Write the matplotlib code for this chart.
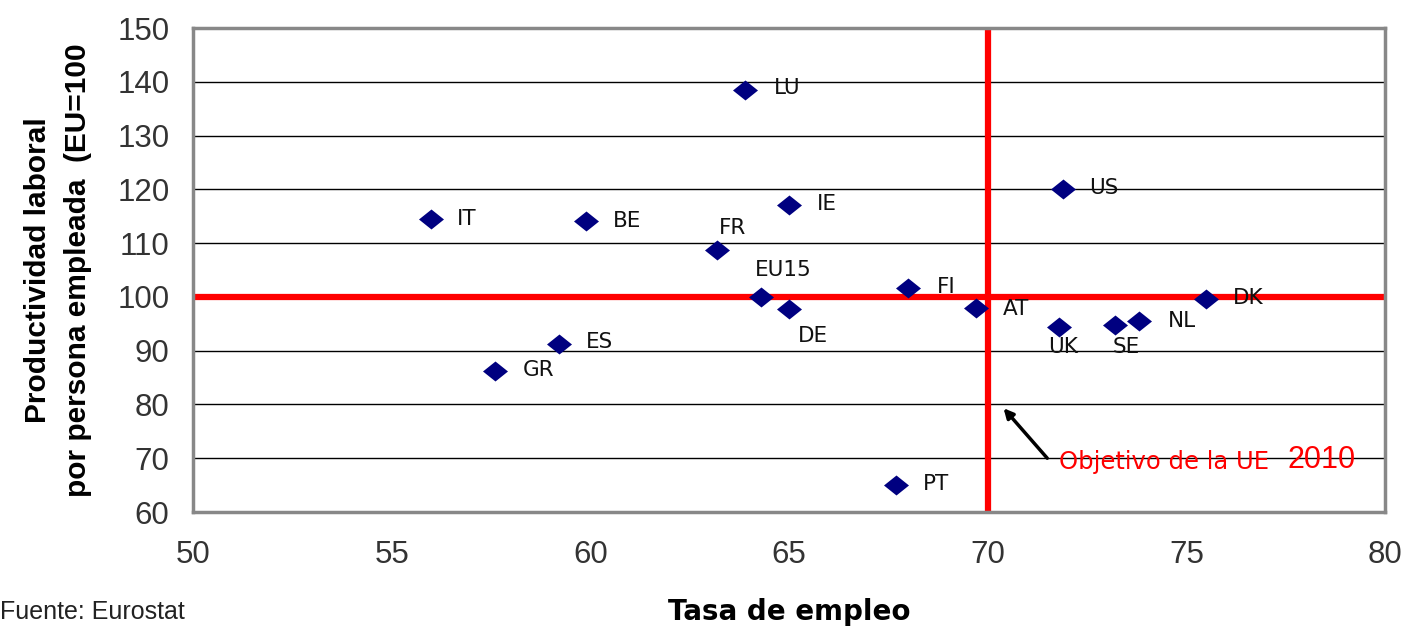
import matplotlib
matplotlib.use("Agg")
import matplotlib.pyplot as plt
from matplotlib.path import Path

countries = ["LU", "IT", "BE", "IE", "FR", "EU15", "DE", "FI", "AT", "US",
             "DK", "UK", "SE", "NL", "ES", "GR", "PT"]
employment = [63.9, 56.0, 59.9, 65.0, 63.2, 64.3, 65.0, 68.0, 69.7, 71.9,
              75.5, 71.8, 73.2, 73.8, 59.2, 57.6, 67.7]
productivity = [138.5, 114.5, 114.1, 117.1, 108.7, 100.0, 97.8, 101.7, 97.9, 120.1,
                99.6, 94.4, 94.8, 95.5, 91.2, 86.2, 65.0]
target_employment = 70
eu_level = 100

xticks = [50, 55, 60, 65, 70, 75, 80]
yticks = [60, 70, 80, 90, 100, 110, 120, 130, 140, 150]

# label offsets (pixels) relative to markers
label_offsets = {
    "LU": (29, 2), "IT": (25, 0), "BE": (27, 0), "IE": (28, 1), "FR": (1, 22),
    "EU15": (-6, 27), "DE": (9, -27), "FI": (29, 1), "AT": (27, -1), "US": (26, 1),
    "DK": (27, 1), "UK": (-11, -20), "SE": (-2, -22), "NL": (29, 0), "ES": (27, 2),
    "GR": (28, 1), "PT": (27, 1),
}

plt.rcParams['font.family'] = ['Liberation Sans', 'DejaVu Sans']

fig = plt.figure(figsize=(14.08, 6.27), dpi=100)
ax = fig.add_axes([193/1408, 1-512/627, (1385-193)/1408, (512-28)/627])

ax.set_xlim(50, 80)
ax.set_ylim(60, 150)
ax.set_xticks(xticks)
ax.set_yticks(yticks)
ax.tick_params(axis='both', length=0, labelsize=22.5, colors='#333333')
ax.tick_params(axis='y', pad=17)
ax.tick_params(axis='x', pad=20)
ax.grid(axis='y', color='black', linewidth=1.0)
ax.set_axisbelow(True)
for s in ax.spines.values():
    s.set_color('#888888')
    s.set_linewidth(2.5)

ax.axhline(eu_level, color='#ff0000', linewidth=4.5, zorder=2)
ax.axvline(target_employment, color='#ff0000', linewidth=4.5, zorder=2)

diamond = Path([(-1, 0), (0, 0.8), (1, 0), (0, -0.8), (-1, 0)],
               [Path.MOVETO, Path.LINETO, Path.LINETO, Path.LINETO, Path.CLOSEPOLY])
ax.scatter(employment, productivity, marker=diamond, s=18**2, color='#000080',
           zorder=3, linewidths=0)

for c, x, y in zip(countries, employment, productivity):
    dx, dy = label_offsets[c]
    ax.annotate(c, (x, y), xytext=(dx, dy), textcoords='offset pixels',
                ha='left', va='center', fontsize=15.5, color='#111111', zorder=4,
                family='DejaVu Sans')

ax.annotate("", xy=(70.4, 79.3), xytext=(71.5, 70.0),
            arrowprops=dict(arrowstyle='-|>', color='black', lw=2.5,
                            mutation_scale=14, shrinkA=0, shrinkB=0), zorder=4)
ax.text(71.8, 69.3, "Objetivo de la UE", color='#ff0000', fontsize=17.5,
        ha='left', va='center', zorder=4, family='DejaVu Sans')
ax.text(77.55, 69.6, "2010", color='#ff0000', fontsize=22,
        ha='left', va='center', zorder=4)

ax.set_xlabel("Tasa de empleo", fontsize=20, fontweight='bold', labelpad=20,
              family='DejaVu Sans')
ax.set_ylabel("Productividad laboral\npor persona empleada  (EU=100", fontsize=21.5,
              fontweight='bold', labelpad=18, linespacing=1.55)

fig.text(0.0, 0.004, "Fuente: Eurostat", fontsize=18, color='#222222',
         ha='left', va='bottom')

fig.savefig("out.png", dpi=100, facecolor='white')
